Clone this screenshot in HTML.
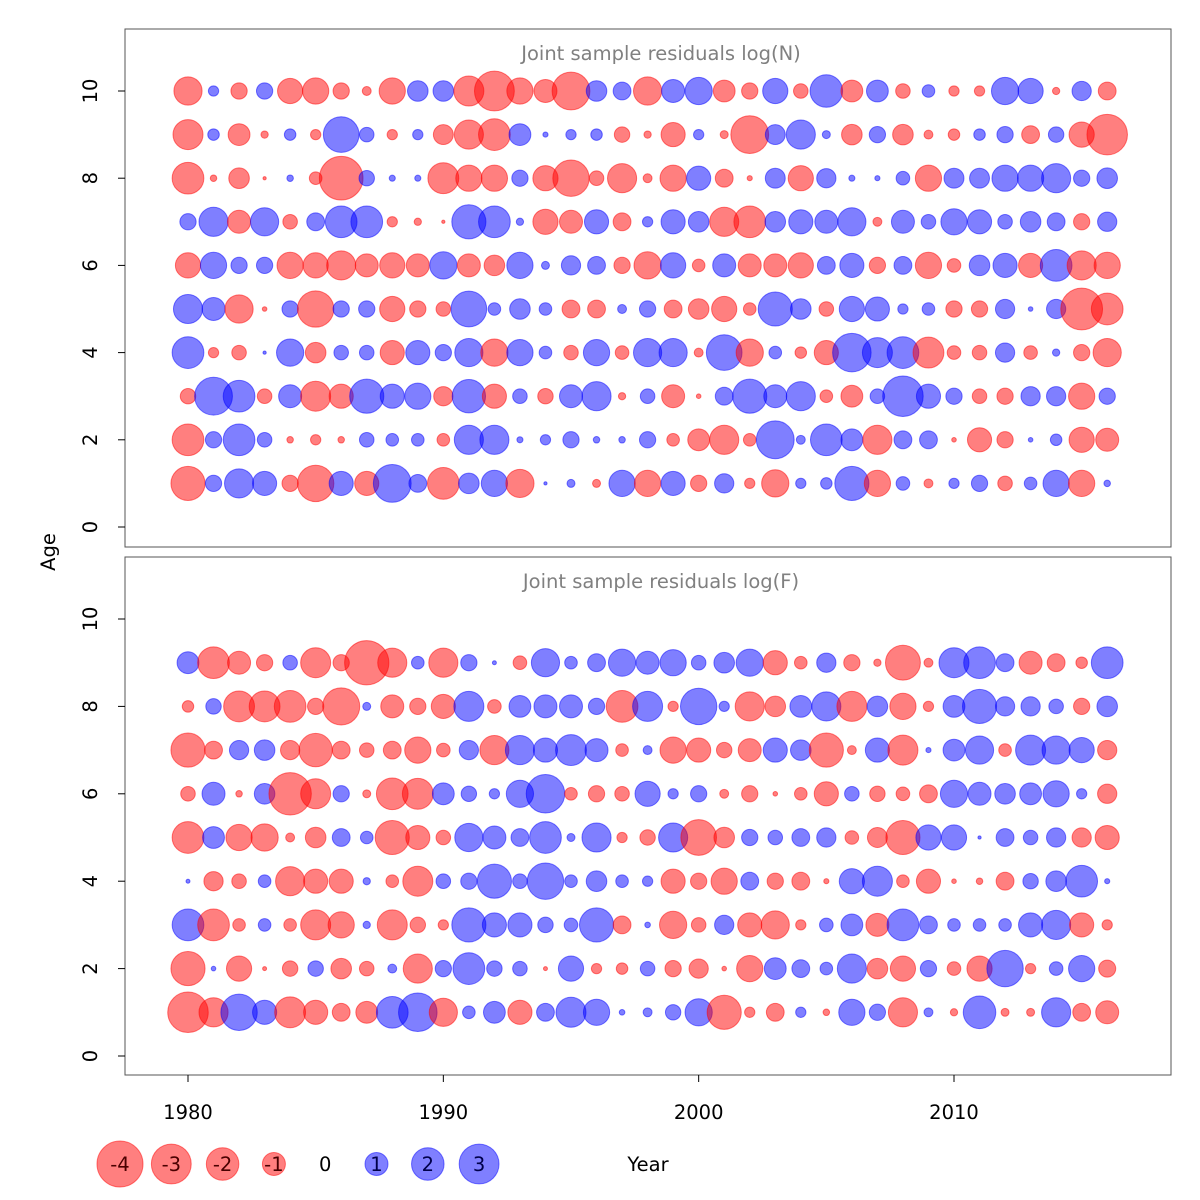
<!DOCTYPE html>
<html><head><meta charset="utf-8"><title>Joint sample residuals</title>
<style>html,body{margin:0;padding:0;background:#fff}svg{display:block;font-family:"DejaVu Sans","Liberation Sans",sans-serif}</style>
</head><body>
<svg id="chart" width="1200" height="1200" viewBox="0 0 1200 1200" xmlns="http://www.w3.org/2000/svg">
<rect x="0" y="0" width="1200" height="1200" fill="#fff"/>
<rect x="125" y="29" width="1046" height="518" fill="none" stroke="#555" stroke-width="1"/>
<rect x="125" y="557" width="1046" height="518" fill="none" stroke="#555" stroke-width="1"/>
<text x="661" y="60" text-anchor="middle" font-size="19.5" fill="#808080">Joint sample residuals log(N)</text>
<text x="661" y="588" text-anchor="middle" font-size="19.5" fill="#808080">Joint sample residuals log(F)</text>
<text transform="translate(55,552) rotate(-90)" text-anchor="middle" font-size="19.5" fill="#000">Age</text>
<text x="648" y="1171" text-anchor="middle" font-size="19.5" fill="#000">Year</text>
<g id="axes"></g>
<g id="bubbles"></g>
<g id="legend"></g>
</svg>
<script>
const years = [];
for (let y = 1980; y <= 2016; y++) years.push(y);
const xTicks = [1980, 1990, 2000, 2010];
const yTicks = [0, 2, 4, 6, 8, 10];
const legendValues = [-4, -3, -2, -1, 0, 1, 2, 3];

const nAge10 = [-1.5,0.2,-0.5,0.5,-1.2,-1.3,-0.5,-0.15,-1.3,0.8, 0.8,-1.7,-3,-1.3,-1,-2.7,0.8,0.6,-1.5,1, 1.4,-0.9,-0.5,1.2,-0.4,2,-0.9,0.9,-0.4,0.3, -0.2,-0.2,1.4,1.2,-0.1,0.7,-0.6];
const nAge9 = [-1.7,0.25,-0.9,-0.1,0.25,-0.2,2.4,0.4,-0.2,0.2, -0.75,-1.6,-1.9,0.9,0.05,0.2,0.25,-0.45,-0.1,-1.1, 0.2,-0.12,-2.7,0.75,1.6,0.12,-0.8,0.5,-0.8,-0.15, -0.25,0.25,0.5,-0.6,0.45,-1.2,-3.1];
const nAge8 = [-1.9,-0.08,-0.8,-0.02,0.08,-0.3,-3.6,0.45,0.07,0.07, -1.8,-1.3,-1.3,0.5,-1.2,-2.5,-0.4,-1.6,-0.15,-1.3, 1.1,-0.6,-0.05,0.75,-1.2,0.7,0.07,0.05,0.35,-1.3, 0.75,0.75,1.3,1.3,1.6,0.5,0.8];
const nAge7 = [0.5,1.6,-1,1.5,-0.4,0.6,1.9,1.9,-0.2,-0.1, -0.02,2.2,1.9,0.1,-1.2,-1,1.1,-0.6,0.2,1.1, 0.8,-1.6,-1.9,0.8,1.1,1,1.5,-0.15,1,0.4, 1.3,1.1,0.4,0.8,0.6,-0.5,0.7];
const nAge6 = [-1.2,1.3,0.5,0.5,-1.3,-1.2,-1.6,-1,-1.2,-1, 1.4,-1,-0.8,1.3,0.12,0.7,0.6,-0.5,-1.4,1.2, -0.3,1,-1,-1,-1.2,0.6,1.1,-0.5,0.6,-1.3, -0.35,0.8,1.1,-1.1,1.9,-1.6,-1.3];
const nAge5 = [1.6,1,-1.5,-0.04,0.5,-2.5,0.5,0.5,-1.2,-0.5, -0.4,2.4,0.3,0.8,0.3,-0.6,-0.6,0.15,0.5,-0.6, -0.8,-1.2,-0.3,2.2,0.8,-0.4,1.2,1.1,0.2,0.3, -0.5,-0.5,0.7,0.04,0.7,-3.3,-1.9];
const nAge4 = [1.9,-0.2,-0.4,0.02,1.4,-0.8,0.4,0.4,-1.1,1.1, 0.5,1.5,-1.4,1.3,0.3,-0.4,1.3,-0.35,1.5,1.5, -0.15,2.4,-1.4,0.3,-0.25,-1.1,2.8,1.7,1.9,-1.8, -0.35,-0.4,0.7,-0.35,0.1,-0.5,-1.5];
const nAge3 = [-0.45,2.7,1.9,-0.4,1,-1.7,-1.1,2.2,1.1,1.3, -0.7,2.1,-1.1,0.4,-0.45,1,1.6,-0.1,0.4,-1, -0.04,0.6,2.2,1,1.6,-0.3,-0.9,0.4,3.1,1.1, 0.5,-0.4,-0.5,0.7,0.7,-1.3,0.5];
const nAge2 = [-1.9,0.5,1.9,0.4,-0.08,-0.2,-0.08,0.4,0.3,0.3, -0.3,1.6,1.6,0.07,0.2,0.5,0.08,0.08,0.5,-0.3, -0.9,-1.6,-0.3,2.7,0.15,1.9,0.9,-1.6,0.6,0.6, -0.04,-1.1,-0.5,0.04,0.25,-1.2,-1];
const nAge1 = [-2.2,0.5,1.6,1.1,-0.5,-2.5,1.1,-1.1,2.7,0.6, -1.9,0.8,1.3,-1.5,0.02,0.12,-0.12,1.3,-1.3,1.1, -0.5,0.7,-0.2,-1.4,0.2,0.25,2.2,-1.3,0.35,-0.15, 0.2,0.5,-0.4,0.3,1.3,-1.3,0.08];

const fAge9 = [0.9,-1.9,-1,-0.5,0.4,-1.7,-0.5,-3.7,-1.6,0.3, -1.6,0.5,0.03,-0.35,1.5,0.3,0.6,1.4,1,1.3, 0.4,0.8,1.4,-1.1,-0.3,0.7,-0.5,-0.1,-2.3,-0.15, 1.7,1.9,0.6,-1,-0.6,-0.25,1.9];
const fAge8 = [-0.25,0.45,-1.8,-1.8,-1.9,-0.5,-2.6,0.12,-1,-0.5, -1.1,1.7,-0.35,0.9,1,1,0.5,-1.9,1.7,-0.2, 2.5,0.2,-1.6,-0.8,0.9,1.6,-1.7,0.8,-1.3,-0.2, 0.9,2.2,0.7,0.7,0.4,-0.5,0.8];
const fAge7 = [-2.2,-0.6,0.7,0.8,-0.7,-2.1,-0.6,-0.4,-0.6,-1.3, -0.35,0.7,-1.6,1.6,1.1,1.8,1,-0.3,0.15,-1.3, -1.1,-0.45,-1,1.1,0.8,-2.2,-0.15,1.1,-1.7,0.05, 0.9,1.5,-0.3,1.7,1.5,1.2,-0.7];
const fAge6 = [-0.4,1,-0.08,0.8,-3.4,-1.7,0.5,-0.12,-1.9,-1.8, 0.9,0.45,0.2,1.4,2.8,-0.3,-0.5,-0.4,1.2,0.2, 0.5,-0.15,-0.5,-0.04,-0.3,-1.1,0.4,-0.45,-0.35,-0.6, 1.4,1,0.8,0.9,1.3,0.2,-0.7];
const fAge5 = [-1.9,0.9,-1.3,-1.4,-0.15,-0.8,0.6,0.3,-2.2,-1.1, -0.4,1.5,1,0.6,1.9,0.12,1.6,-0.2,-0.45,1.6, -2.4,-0.8,0.5,0.4,0.6,0.7,-0.35,-0.75,-2.2,1.2, 1.2,0.02,0.6,0.4,0.7,-0.7,-1.1];
const fAge4 = [0.03,-0.7,-0.4,0.3,-1.6,-1.1,-1.1,0.1,-0.3,-1.7, 0.4,0.5,2.2,0.4,2.5,0.3,0.8,0.3,0.2,-1.1, -0.5,-1.3,0.6,-0.5,-0.6,-0.05,1.2,1.7,-0.3,-1.1, -0.04,-0.08,-0.6,0.45,0.8,1.9,0.05];
const fAge3 = [1.9,-1.9,-0.3,0.3,-0.3,-1.7,-1.3,0.1,-1.7,-0.45, -0.2,2.2,1.1,1.1,0.45,0.35,2.2,-0.6,0.06,-1.4, -0.4,0.7,-1.1,-1.5,-0.2,0.35,0.9,-1,1.9,0.6, 0.3,0.3,0.3,1.1,1.6,-1.1,-0.2];
const fAge2 = [-2.2,0.04,-1.2,-0.03,-0.45,0.45,-0.8,-0.4,0.15,-1.6, 0.5,1.9,0.45,0.4,-0.03,1.2,-0.2,-0.25,0.4,-0.5, -0.7,-0.04,-1.3,0.9,0.6,0.3,1.6,-0.8,-1.2,0.5, -0.35,-1.2,2.5,-0.2,0.35,1.3,-0.55];
const fAge1 = [-3.1,-1.6,2.5,1.1,-1.8,-1.1,-0.6,-0.9,1.9,2.8, -1.5,0.3,0.9,-1.1,0.6,1.7,1.3,0.06,0.15,0.45, 1.4,-2.2,-0.2,-0.6,0.2,-0.08,1.3,0.5,-1.6,0.15, -0.1,2,-0.12,-0.12,1.6,-0.6,-1];

const nRows = [[1,nAge1],[2,nAge2],[3,nAge3],[4,nAge4],[5,nAge5],[6,nAge6],[7,nAge7],[8,nAge8],[9,nAge9],[10,nAge10]];
const fRows = [[1,fAge1],[2,fAge2],[3,fAge3],[4,fAge4],[5,fAge5],[6,fAge6],[7,fAge7],[8,fAge8],[9,fAge9]];

const NS = 'http://www.w3.org/2000/svg';
function xScale(yr) { return 188 + (yr - 1980) * (954 - 188) / 30; }
function yTop(a) { return 527 - a * 43.6; }
function yBot(a) { return 1056 - a * 43.7; }
function rScale(v) { return 11.5 * Math.sqrt(Math.abs(v)); }
function mk(tag, attrs, parent) {
  const e = document.createElementNS(NS, tag);
  for (const k in attrs) e.setAttribute(k, attrs[k]);
  parent.appendChild(e);
  return e;
}
const axes = document.getElementById('axes');
const bubbles = document.getElementById('bubbles');
const legend = document.getElementById('legend');

[[yTop, 'n'], [yBot, 'f']].forEach(function (p) {
  const ys = p[0];
  yTicks.forEach(function (t) {
    const ln = mk('line', {x1: 118, x2: 125, y1: ys(t), y2: ys(t), stroke: '#000'}, axes);
    
    
    const tx = mk('text', {transform: 'translate(97,' + ys(t) + ') rotate(-90)', 'text-anchor': 'middle', 'font-size': 19.5, fill: '#000'}, axes);
    tx.textContent = t;
    
    
  });
});
xTicks.forEach(function (t) {
  const ln = mk('line', {x1: xScale(t), x2: xScale(t), y1: 1075, y2: 1082, stroke: '#000'}, axes);
  
  
  const tx = mk('text', {x: xScale(t), y: 1119, 'text-anchor': 'middle', 'font-size': 19.5, fill: '#000'}, axes);
  tx.textContent = t;
  
  
});

function drawRows(rows, ys, tag) {
  rows.forEach(function (row) {
    const age = row[0], vals = row[1];
    vals.forEach(function (v, i) {
      const col = v < 0 ? '#ff0000' : '#0000ff';
      const c = mk('circle', {cx: xScale(years[i]), cy: ys(age), r: rScale(v), fill: col, 'fill-opacity': 0.5, stroke: col, 'stroke-opacity': 0.5, 'stroke-width': 1}, bubbles);
      
      
    });
  });
}
drawRows(nRows, yTop, 'n');
drawRows(fRows, yBot, 'f');

legendValues.forEach(function (v, i) {
  const cx = 120 + i * 51.3;
  if (v !== 0) {
    const col = v < 0 ? '#ff0000' : '#0000ff';
    const c = mk('circle', {cx: cx, cy: 1164, r: rScale(v), fill: col, 'fill-opacity': 0.5, stroke: col, 'stroke-opacity': 0.5}, legend);
    
    
  }
  const t = mk('text', {x: cx, y: 1171, 'text-anchor': 'middle', 'font-size': 19.5, fill: v < 0 ? '#4a0000' : (v > 0 ? '#00004a' : '#000')}, legend);
  t.textContent = v;
  
  
});
</script>
</body></html>
